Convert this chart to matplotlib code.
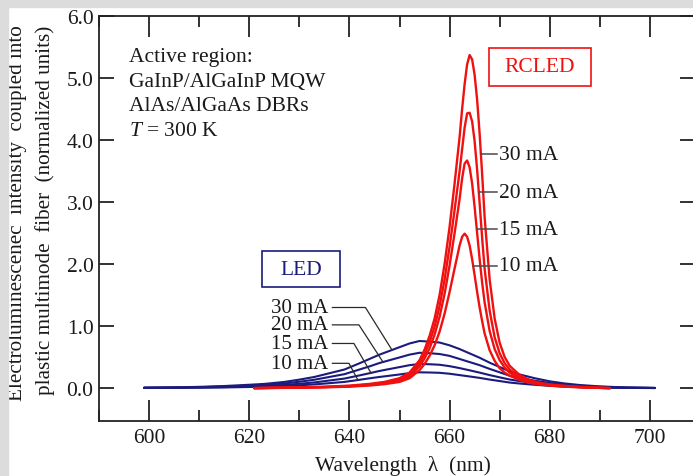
import numpy as np
import matplotlib
matplotlib.use("Agg")
import matplotlib.pyplot as plt
from matplotlib.patches import Rectangle
from matplotlib.ticker import MultipleLocator

plt.rcParams["font.family"] = ["Liberation Serif", "DejaVu Serif"]
plt.rcParams["mathtext.fontset"] = "custom"
plt.rcParams["mathtext.rm"] = "Liberation Serif"
plt.rcParams["mathtext.it"] = "Liberation Serif:italic"

# ---- LED spectra (normalized units) ----
led_wl = [599, 603, 607, 611, 615, 619, 623, 627, 630, 633,
          636, 639, 642, 644, 646, 648, 650, 652, 654, 656,
          658, 660, 662, 664, 666, 668, 670, 672, 674, 677,
          680, 683, 686, 690, 695, 701]
led_30 = [0.008, 0.011, 0.015, 0.023, 0.034, 0.05, 0.068, 0.10, 0.137, 0.18,
          0.24, 0.30, 0.40, 0.47, 0.54, 0.60, 0.66, 0.72, 0.76, 0.75,
          0.735, 0.69, 0.63, 0.56, 0.49, 0.41, 0.34, 0.27, 0.22, 0.16,
          0.11, 0.075, 0.05, 0.028, 0.011, 0.004]
led_20 = [0.006, 0.008, 0.011, 0.017, 0.026, 0.038, 0.051, 0.075, 0.103, 0.135,
          0.18, 0.225, 0.30, 0.35, 0.405, 0.45, 0.495, 0.54, 0.57, 0.563,
          0.55, 0.52, 0.47, 0.42, 0.37, 0.31, 0.255, 0.20, 0.165, 0.12,
          0.083, 0.056, 0.038, 0.021, 0.008, 0.003]
led_15 = [0.004, 0.006, 0.008, 0.012, 0.017, 0.026, 0.035, 0.051, 0.07, 0.092,
          0.123, 0.154, 0.205, 0.24, 0.277, 0.308, 0.339, 0.37, 0.39, 0.385,
          0.377, 0.354, 0.323, 0.287, 0.25, 0.21, 0.174, 0.139, 0.113, 0.082,
          0.056, 0.038, 0.026, 0.014, 0.006, 0.002]
led_10 = [0.003, 0.004, 0.005, 0.008, 0.011, 0.017, 0.023, 0.034, 0.046, 0.06,
          0.08, 0.10, 0.134, 0.158, 0.18, 0.20, 0.22, 0.242, 0.255, 0.252,
          0.247, 0.232, 0.21, 0.188, 0.165, 0.138, 0.114, 0.09, 0.074, 0.054,
          0.037, 0.025, 0.017, 0.009, 0.004, 0.001]

# ---- RCLED spectra (normalized units) ----
rc_wl = [621, 625, 630, 635, 640, 644, 647, 650, 652, 654,
         655, 656, 657, 658, 659, 660, 661, 662, 662.5, 663,
         663.5, 664, 664.5, 665, 665.5, 666, 666.5, 667, 668, 669,
         670, 671, 672, 674, 676, 678, 680, 684, 688, 692]
rc_30 = [0.0, 0.006, 0.012, 0.022, 0.04, 0.068, 0.10, 0.16, 0.25, 0.45,
         0.62, 0.84, 1.12, 1.5, 2.0, 2.6, 3.3, 4.05, 4.5, 4.9,
         5.22, 5.37, 5.3, 5.05, 4.65, 4.1, 3.45, 2.75, 1.75, 1.12,
         0.73, 0.5, 0.36, 0.21, 0.13, 0.085, 0.06, 0.03, 0.012, 0.0]
rc_20 = [0.0, 0.005, 0.01, 0.019, 0.034, 0.058, 0.088, 0.14, 0.22, 0.4,
         0.55, 0.74, 0.99, 1.32, 1.75, 2.28, 2.87, 3.5, 3.85, 4.2,
         4.43, 4.44, 4.3, 3.98, 3.52, 2.98, 2.42, 1.92, 1.25, 0.82,
         0.56, 0.4, 0.3, 0.18, 0.11, 0.075, 0.05, 0.025, 0.01, 0.0]
rc_15 = [0.0, 0.004, 0.008, 0.016, 0.029, 0.05, 0.076, 0.12, 0.19, 0.35,
         0.48, 0.64, 0.86, 1.15, 1.52, 1.98, 2.5, 3.05, 3.38, 3.62,
         3.67, 3.56, 3.3, 2.92, 2.5, 2.08, 1.7, 1.38, 0.92, 0.63,
         0.45, 0.33, 0.25, 0.155, 0.095, 0.065, 0.045, 0.022, 0.009, 0.0]
rc_10 = [0.0, 0.003, 0.007, 0.013, 0.024, 0.042, 0.064, 0.1, 0.16, 0.29,
         0.39, 0.52, 0.69, 0.91, 1.2, 1.55, 1.93, 2.3, 2.44, 2.49,
         2.44, 2.3, 2.08, 1.82, 1.55, 1.3, 1.08, 0.88, 0.61, 0.44,
         0.32, 0.25, 0.2, 0.13, 0.085, 0.058, 0.04, 0.02, 0.008, 0.0]

currents = ["30 mA", "20 mA", "15 mA", "10 mA"]
led_series = [led_30, led_20, led_15, led_10]
rc_series = [rc_30, rc_20, rc_15, rc_10]

x_ticks = [600, 620, 640, 660, 680, 700]
y_ticks = [0.0, 1.0, 2.0, 3.0, 4.0, 5.0, 6.0]

NAVY = "#1b1b7e"
RED = "#f01010"
INK = "#1a1a1a"
FS = 15.5

W, H = 693, 477
fig = plt.figure(figsize=(W / 100, H / 100), dpi=100)
fig.patch.set_facecolor("white")
ax = fig.add_axes([99 / W, 55 / H, (695 - 99) / W, (422 - 17) / H])
ax.set_xlim(590, 709)
ax.set_ylim(-0.53, 6.0)

for vals in led_series:
    ax.plot(led_wl, vals, color=NAVY, lw=1.5, solid_capstyle="round", zorder=2)
for vals in rc_series:
    ax.plot(rc_wl, vals, color=RED, lw=1.7, solid_capstyle="round", zorder=3)

# axes styling
for sp in ax.spines.values():
    sp.set_linewidth(1.3)
    sp.set_color("#222222")
ax.set_xticks(x_ticks)
ax.xaxis.set_minor_locator(MultipleLocator(10))
ax.set_yticks(y_ticks)
ax.set_yticklabels([f"{v:.1f}" for v in y_ticks])
ax.tick_params(axis="x", which="major", direction="in", length=15, width=1.3,
               top=True, bottom=True, labelsize=FS, pad=5, colors="#222222",
               labelcolor=INK)
ax.tick_params(axis="x", which="minor", direction="in", length=8, width=1.3,
               top=True, bottom=True, colors="#222222")
ax.tick_params(axis="y", which="major", direction="in", length=11, width=1.3,
               left=True, right=True, labelsize=FS, pad=4, colors="#222222",
               labelcolor=INK)

# axis titles
fig.text(403 / W, 1 - 466 / H, "Wavelength  λ  (nm)", ha="center", va="center",
         fontsize=FS, color=INK)
fig.text(18 / W, 1 - 213 / H, "Electroluminescenec  intensity  coupled into",
         rotation=90, ha="center", va="center", fontsize=15.2, color=INK)
fig.text(45 / W, 1 - 210 / H, "plastic multimode  fiber  (normalized units)",
         rotation=90, ha="center", va="center", fontsize=15.2, color=INK)

# description block
info = ["Active region:", "GaInP/AlGaInP MQW", "AlAs/AlGaAs DBRs", "$T$ = 300 K"]
for line, yv in zip(info, [5.34, 4.95, 4.55, 4.16]):
    ax.text(595.9, yv, line, ha="left", va="center", fontsize=FS, color=INK)

# device boxes
ax.add_patch(Rectangle((622.5, 1.625), 15.7, 0.58, fill=False, ec=NAVY, lw=1.2, zorder=4))
ax.text(630.35, 1.915, "LED", ha="center", va="center", fontsize=FS, color=NAVY)
ax.add_patch(Rectangle((667.9, 4.875), 20.3, 0.605, fill=False, ec=RED, lw=1.2, zorder=4))
ax.text(678.05, 5.18, "RCLED", ha="center", va="center", fontsize=FS, color=RED)

# LED current labels with bent leaders
led_lab_y = [1.30, 1.02, 0.72, 0.40]
led_knee_x = [643.2, 641.9, 640.9, 639.9]
led_tip_x = [648.5, 646.7, 644.3, 641.7]
for name, vals, ly, kx, tx in zip(currents, led_series, led_lab_y, led_knee_x, led_tip_x):
    ty = float(np.interp(tx, led_wl, vals))
    ax.plot([636.6, kx, tx], [ly, ly, ty], color="#2a2a2a", lw=0.9, zorder=5)
    ax.text(635.8, ly, name, ha="right", va="center", fontsize=15, color=INK)

# RCLED current labels with straight leaders from each curve's long-wavelength side
rc_lab_y = [3.77, 3.16, 2.56, 1.97]
rc_wl_arr = np.array(rc_wl)
for name, vals, ly in zip(currents, rc_series, rc_lab_y):
    v = np.array(vals)
    k = int(np.argmax(v))
    sx = float(np.interp(ly, v[k:][::-1], rc_wl_arr[k:][::-1]))
    ax.plot([sx, 669.4], [ly, ly], color="#4a4a4a", lw=1.1, zorder=5)
    ax.text(669.8, ly, name, ha="left", va="center", fontsize=FS, color=INK)

# grey frame along the left and top edges
fig.add_artist(Rectangle((0, 0), 8 / W, 1, transform=fig.transFigure,
                         color="#dcdcdc", zorder=20))
fig.add_artist(Rectangle((0, 1 - 8 / H), 1, 8 / H, transform=fig.transFigure,
                         color="#dcdcdc", zorder=20))

fig.savefig("out.png", dpi=100)
